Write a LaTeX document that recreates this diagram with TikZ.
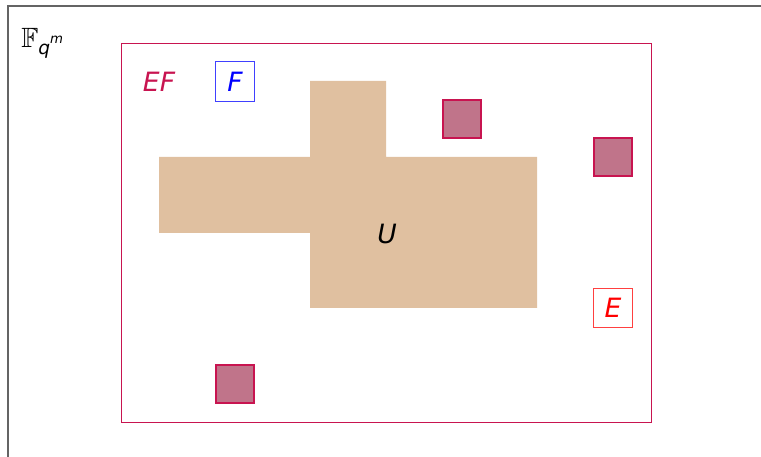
\documentclass[tikz,border=0pt]{standalone}
\usepackage{amssymb}
\usepackage{fontspec}
\newfontfamily\djs{DejaVu Sans}
\definecolor{crim}{RGB}{200,20,80}
\definecolor{sqfill}{RGB}{192,116,138}
\definecolor{tan}{RGB}{224,192,160}
\definecolor{frame}{RGB}{100,100,100}
\tikzset{
  lbl/.style={font=\fontsize{20}{24}\selectfont\djs\itshape, inner sep=0pt},
  boxed/.style={draw, line width=0.8pt, minimum width=30pt, minimum height=30pt, inner sep=0pt},
  sq/.style={draw=crim, fill=sqfill, line width=0.9pt, minimum width=28.5pt, minimum height=28.5pt, inner sep=0pt},
}
\begin{document}
\begin{tikzpicture}[x=0.026458cm, y=-0.026458cm]
\useasboundingbox (0,0) rectangle (761,457);
\clip (0,0) rectangle (761,457);
% outer frame
\draw[frame, line width=1.2pt] (8,6) rectangle (820,520);
\node[font=\fontsize{21}{25}\selectfont, inner sep=0pt, anchor=base west] (Fq) at (21,48)
  {$\mathbb{F}$\raisebox{-5pt}{\fontsize{14}{14}\selectfont\djs\itshape q}\raisebox{3.5pt}{\fontsize{10}{10}\selectfont\djs\itshape m}};
% inner rectangle EF
\draw[crim, line width=0.7pt] (121,43) rectangle (651,422);
% U shape
\fill[tan] (159,157) -- (310,157) -- (310,81) -- (386,81) -- (386,157) -- (537,157) -- (537,308) -- (310,308) -- (310,233) -- (159,233) -- cycle;
\node[lbl] (U) at (387,234) {U};
\node[lbl, text=crim] (EF) at (159,82) {EF};
\node[boxed, draw=blue!75, text=blue, lbl] (F) at (235,81.5) {F};
\node[boxed, draw=red!75, text=red, lbl] (E) at (613,308) {E};
\node[sq] (s1) at (462,119) {};
\node[sq] (s2) at (613,157) {};
\node[sq] (s3) at (235,384) {};
\end{tikzpicture}
\end{document}
